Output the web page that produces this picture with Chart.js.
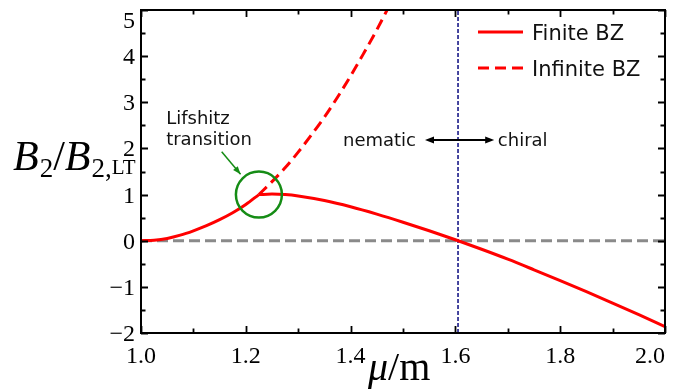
<!DOCTYPE html>
<html>
<head>
<meta charset="utf-8">
<script src="https://cdn.jsdelivr.net/npm/chart.js@4"></script>
<style>
  html, body { margin: 0; padding: 0; background: #fff; }
  #wrap { width: 678px; height: 389px; }
</style>
</head>
<body>
<div id="wrap"><canvas id="chart"></canvas></div>
<script>
// finite BZ, rising part (shared with infinite BZ up to the Lifshitz point)
const riseX = [1.0, 1.025, 1.05, 1.075, 1.1, 1.125, 1.15, 1.175, 1.2, 1.225];
const riseY = [0, 0.012, 0.05, 0.12, 0.215, 0.325, 0.455, 0.605, 0.785, 1.0];

// finite BZ after the Lifshitz transition
const fallX = [1.225, 1.25, 1.275, 1.3, 1.35, 1.4, 1.45, 1.5, 1.55, 1.6, 1.65, 1.7, 1.75, 1.8, 1.85, 1.9, 1.95, 2.0];
const fallY = [1.0, 1.01, 1.0, 0.97, 0.87, 0.735, 0.575, 0.40, 0.215, 0.02, -0.185, -0.40, -0.63, -0.865, -1.105, -1.35, -1.60, -1.86];

// infinite BZ continuation
const infX = [1.225, 1.25, 1.275, 1.3, 1.325, 1.35, 1.375, 1.4, 1.425, 1.45, 1.475, 1.5];
const infY = [1.0, 1.28, 1.58, 1.92, 2.29, 2.68, 3.11, 3.57, 4.06, 4.57, 5.12, 5.7];

const lifshitzX = 1.225;
const lifshitzY = 1.0;
const chiralX = 1.605;

const xTicks = [1.0, 1.2, 1.4, 1.6, 1.8, 2.0];
const yTicks = [-2, -1, 0, 1, 2, 3, 4, 5];

const pts = (xs, ys) => xs.map((x, i) => ({ x, y: ys[i] }));

const RED = "#ff0000";
const GREEN = "#158c15";
const SERIF = '"Liberation Serif", "Times New Roman", serif';
const SANS = '"DejaVu Sans", Verdana, sans-serif';

function arrowHead(ctx, x1, y1, x2, y2, len, half) {
  const a = Math.atan2(y2 - y1, x2 - x1);
  ctx.beginPath();
  ctx.moveTo(x2, y2);
  ctx.lineTo(x2 - len * Math.cos(a) + half * Math.sin(a), y2 - len * Math.sin(a) - half * Math.cos(a));
  ctx.lineTo(x2 - len * Math.cos(a) - half * Math.sin(a), y2 - len * Math.sin(a) + half * Math.cos(a));
  ctx.closePath();
  ctx.fill();
}

const decor = {
  id: "decor",
  afterDatasetsDraw(chart) {
    const { ctx, chartArea: ca, scales: { x, y } } = chart;
    ctx.save();

    // frame
    ctx.strokeStyle = "#000";
    ctx.lineWidth = 2;
    ctx.setLineDash([]);
    ctx.strokeRect(ca.left, ca.top, ca.right - ca.left, ca.bottom - ca.top);

    // inward ticks on all four sides
    ctx.lineWidth = 1.8;
    ctx.beginPath();
    for (let v = 1.0; v <= 2.0001; v += 0.1) {
      const major = Math.abs(Math.round(v * 5) - v * 5) < 1e-6;
      const len = major ? 7 : 4.5;
      const px = Math.round(x.getPixelForValue(v)) + 0.5;
      ctx.moveTo(px, ca.bottom); ctx.lineTo(px, ca.bottom - len);
      ctx.moveTo(px, ca.top); ctx.lineTo(px, ca.top + len);
    }
    for (let v = -2; v <= 5.0001; v += 0.5) {
      const major = Math.abs(v - Math.round(v)) < 1e-6;
      const len = major ? 7 : 4.5;
      const py = Math.round(y.getPixelForValue(v)) + 0.5;
      ctx.moveTo(ca.left, py); ctx.lineTo(ca.left + len, py);
      ctx.moveTo(ca.right, py); ctx.lineTo(ca.right - len, py);
    }
    ctx.stroke();

    // tick labels
    ctx.fillStyle = "#000";
    ctx.font = "24px " + SERIF;
    ctx.textBaseline = "alphabetic";
    xTicks.forEach((v, i) => {
      const px = x.getPixelForValue(v);
      const last = i === xTicks.length - 1;
      ctx.textAlign = last ? "right" : "center";
      ctx.fillText(v.toFixed(1), last ? ca.right : px, 363);
    });
    ctx.textAlign = "right";
    yTicks.forEach((v, i) => {
      const py = y.getPixelForValue(v);
      const top = i === yTicks.length - 1;
      const txt = v < 0 ? "\u2212" + Math.abs(v) : String(v);
      ctx.fillText(txt, ca.left - 6, py + (top ? 18 : 8));
    });

    // y axis title: B_2 / B_{2,LT}
    ctx.textAlign = "left";
    let cx = 13;
    const parts = [
      ["italic 42px " + SERIF, "B", 170],
      ["27px " + SERIF, "2", 177],
      ["42px " + SERIF, "/", 170],
      ["italic 42px " + SERIF, "B", 170],
      ["27px " + SERIF, "2,", 177],
      ["21px " + SERIF, "LT", 174]
    ];
    parts.forEach(([f, t, by]) => {
      ctx.font = f;
      ctx.fillText(t, cx, by);
      cx += ctx.measureText(t).width + (t === "B" ? 1 : 0);
    });

    // x axis title: mu/m
    cx = 368;
    ctx.font = "italic 40px " + SERIF;
    ctx.fillText("\u03bc", cx, 380);
    cx += ctx.measureText("\u03bc").width;
    ctx.font = "40px " + SERIF;
    ctx.fillText("/m", cx, 380);

    // Lifshitz annotation
    ctx.font = "18px " + SANS;
    ctx.fillStyle = "#111";
    const lx = x.getPixelForValue(1.048);
    const ly = y.getPixelForValue(2.53);
    ctx.fillText("Lifshitz", lx, ly);
    ctx.fillText("transition", lx, ly + 21);

    ctx.strokeStyle = GREEN;
    ctx.fillStyle = GREEN;
    ctx.lineWidth = 1.5;
    const ax1 = x.getPixelForValue(1.154), ay1 = y.getPixelForValue(1.93);
    const ax2 = x.getPixelForValue(1.190), ay2 = y.getPixelForValue(1.44);
    ctx.beginPath(); ctx.moveTo(ax1, ay1); ctx.lineTo(ax2, ay2); ctx.stroke();
    arrowHead(ctx, ax1, ay1, ax2, ay2, 8, 3);

    // nematic <-> chiral
    ctx.fillStyle = "#111";
    ctx.strokeStyle = "#000";
    ctx.font = "18px " + SANS;
    const ny = y.getPixelForValue(2.05);
    ctx.fillText("nematic", x.getPixelForValue(1.3855), ny);
    ctx.fillText("chiral", x.getPixelForValue(1.681), ny);
    const hy = y.getPixelForValue(2.18);
    const hx1 = x.getPixelForValue(1.542), hx2 = x.getPixelForValue(1.674);
    ctx.lineWidth = 2;
    ctx.beginPath(); ctx.moveTo(hx1 + 4, hy); ctx.lineTo(hx2 - 4, hy); ctx.stroke();
    ctx.fillStyle = "#000";
    arrowHead(ctx, hx2 - 10, hy, hx2, hy, 9, 3.5);
    arrowHead(ctx, hx1 + 10, hy, hx1, hy, 9, 3.5);

    // legend
    const legend = [["Finite BZ", [], 32, 40], ["Infinite BZ", [11, 6], 68, 76]];
    ctx.font = "21px " + SANS;
    legend.forEach(([label, dash, ly2, by]) => {
      ctx.strokeStyle = RED;
      ctx.lineWidth = 3;
      ctx.setLineDash(dash);
      ctx.beginPath(); ctx.moveTo(478, ly2); ctx.lineTo(523, ly2); ctx.stroke();
      ctx.setLineDash([]);
      ctx.fillStyle = "#111";
      ctx.fillText(label, 532, by);
    });

    ctx.restore();
  }
};

new Chart(document.getElementById("chart"), {
  type: "line",
  data: {
    datasets: [
      {
        type: "scatter",
        data: [{ x: lifshitzX, y: lifshitzY }],
        pointRadius: 23,
        pointHoverRadius: 23,
        pointBorderWidth: 2.5,
        pointBorderColor: GREEN,
        pointBackgroundColor: "transparent",
        showLine: false
      },
      {
        label: "Finite BZ",
        data: pts(riseX, riseY),
        borderColor: RED,
        borderWidth: 3,
        pointRadius: 0,
        cubicInterpolationMode: "monotone"
      },
      {
        label: "Finite BZ",
        data: pts(fallX, fallY),
        borderColor: RED,
        borderWidth: 3,
        pointRadius: 0,
        cubicInterpolationMode: "monotone"
      },
      {
        label: "Infinite BZ",
        data: pts(infX, infY),
        borderColor: RED,
        borderWidth: 3,
        borderDash: [11, 6],
        pointRadius: 0,
        cubicInterpolationMode: "monotone"
      },
      {
        data: [{ x: chiralX, y: -2 }, { x: chiralX, y: 5 }],
        borderColor: "#0a0a80",
        borderWidth: 1.5,
        borderDash: [4, 2],
        pointRadius: 0
      },
      {
        data: [{ x: 1.0, y: 0 }, { x: 2.0, y: 0 }],
        borderColor: "#8a8a8a",
        borderWidth: 3,
        borderDash: [11, 5],
        pointRadius: 0
      }
    ]
  },
  options: {
    responsive: true,
    maintainAspectRatio: false,
    animation: false,
    devicePixelRatio: 1,
    layout: { autoPadding: false, padding: { top: 10, right: 13, left: 0, bottom: 0 } },
    plugins: {
      legend: { display: false },
      tooltip: { enabled: false }
    },
    scales: {
      x: {
        type: "linear",
        min: 1.0,
        max: 2.0,
        ticks: { display: false, stepSize: 0.2 },
        grid: { display: false },
        border: { display: false },
        afterFit: s => { s.height = 56; s.paddingLeft = 0; s.paddingRight = 0; }
      },
      y: {
        min: -2,
        max: 5,
        ticks: { display: false, stepSize: 1 },
        grid: { display: false },
        border: { display: false },
        afterFit: s => { s.width = 141; s.paddingTop = 0; s.paddingBottom = 0; }
      }
    }
  },
  plugins: [decor]
});
</script>
</body>
</html>
